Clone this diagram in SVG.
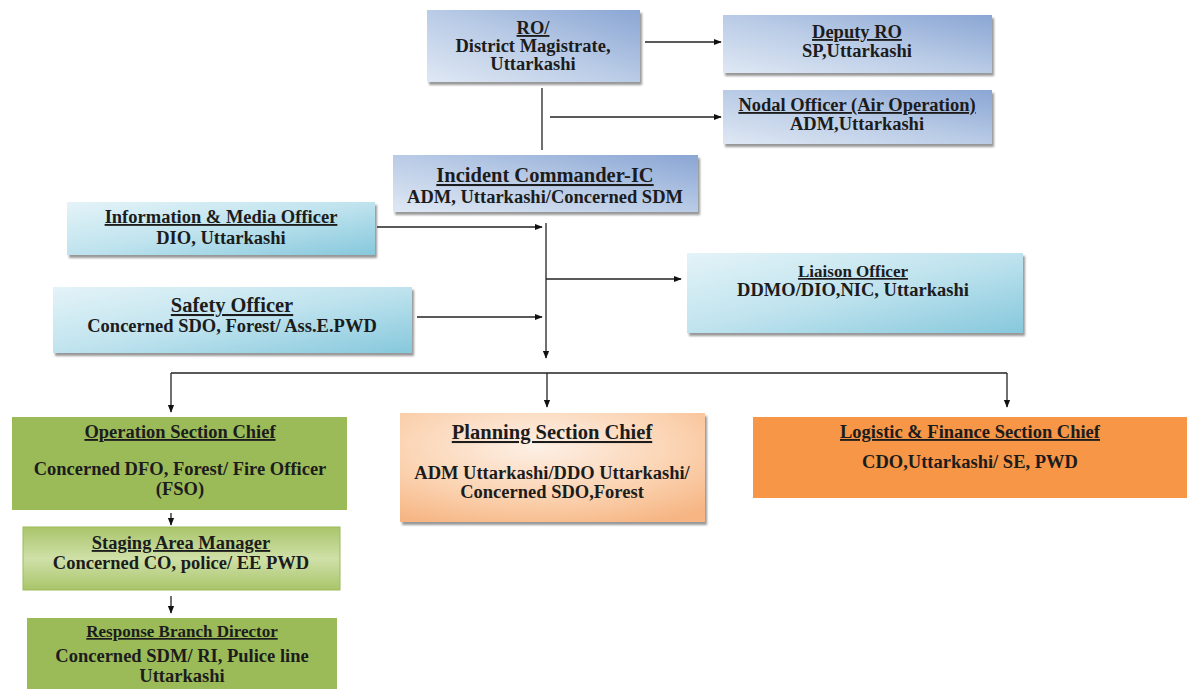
<svg xmlns="http://www.w3.org/2000/svg" width="1191" height="689" viewBox="0 0 1191 689">
<defs>
<linearGradient id="gBlue" x1="0" y1="1" x2="1" y2="0">
<stop offset="0" stop-color="#dfe8f4"/><stop offset="0.5" stop-color="#b9cbe6"/><stop offset="1" stop-color="#8aa6d4"/>
</linearGradient>
<linearGradient id="gCyan" x1="0" y1="0" x2="1" y2="1">
<stop offset="0" stop-color="#e4f3f8"/><stop offset="0.5" stop-color="#bfe3ee"/><stop offset="1" stop-color="#86c8dc"/>
</linearGradient>
<radialGradient id="gPeach" cx="0.45" cy="0.3" r="0.8">
<stop offset="0" stop-color="#fdf0e6"/><stop offset="0.6" stop-color="#fbd2b0"/><stop offset="1" stop-color="#f6b583"/>
</radialGradient>
<linearGradient id="gStage" x1="0" y1="0" x2="0" y2="1">
<stop offset="0" stop-color="#a9c56a"/><stop offset="0.5" stop-color="#cfe0a8"/><stop offset="1" stop-color="#a9c56a"/>
</linearGradient>
<marker id="ah" viewBox="0 0 10 10" refX="9" refY="5" markerWidth="8" markerHeight="8" markerUnits="userSpaceOnUse" orient="auto">
<path d="M0,1 L10,5 L0,9 z" fill="#111"/>
</marker>
<filter id="sh" x="-5%" y="-10%" width="115%" height="130%">
<feDropShadow dx="2" dy="3" stdDeviation="1" flood-color="#7f7f7f" flood-opacity="0.8"/>
</filter>
</defs>
<style>
text{font-family:"Liberation Serif","Times New Roman",serif;font-weight:bold;fill:#1c1c1c;text-anchor:middle}
.t{text-decoration:underline}
.s{font-size:18.5px}
.x{font-size:17px}
.l{font-size:20.5px}
.conn line{stroke:#222;stroke-width:1.3;fill:none}
</style>

<g id="ro">
<rect x="427" y="10" width="213" height="72" fill="url(#gBlue)" filter="url(#sh)"/>
<text class="s t" x="533" y="34">RO/</text>
<text class="s" x="533" y="52">District Magistrate,</text>
<text class="s" x="533" y="70">Uttarkashi</text>
</g>
<g id="deputy-ro">
<rect x="723" y="15" width="269" height="58" fill="url(#gBlue)" filter="url(#sh)"/>
<text class="s t" x="857" y="38">Deputy RO</text>
<text class="s" x="857" y="57">SP,Uttarkashi</text>
</g>
<g id="nodal-officer">
<rect x="723" y="90" width="269" height="54" fill="url(#gBlue)" filter="url(#sh)"/>
<text class="s t" x="857" y="111">Nodal Officer (Air Operation)</text>
<text class="s" x="857" y="130">ADM,Uttarkashi</text>
</g>
<g id="incident-commander">
<rect x="393" y="155" width="305" height="57" fill="url(#gBlue)" filter="url(#sh)"/>
<text class="l t" x="545" y="182">Incident Commander-IC</text>
<text class="s" x="545" y="203">ADM, Uttarkashi/Concerned SDM</text>
</g>
<g id="info-media-officer">
<rect x="67" y="202" width="308" height="53" fill="url(#gCyan)" filter="url(#sh)"/>
<text class="s t" x="221" y="223">Information &amp; Media Officer</text>
<text class="s" x="221" y="244">DIO, Uttarkashi</text>
</g>
<g id="safety-officer">
<rect x="53" y="287" width="359" height="66" fill="url(#gCyan)" filter="url(#sh)"/>
<text class="l t" x="232" y="312">Safety Officer</text>
<text class="s" x="232" y="332">Concerned SDO, Forest/ Ass.E.PWD</text>
</g>
<g id="liaison-officer">
<rect x="687" y="253" width="336" height="80" fill="url(#gCyan)" filter="url(#sh)"/>
<text class="x t" x="853" y="277">Liaison Officer</text>
<text class="s" x="853" y="296">DDMO/DIO,NIC, Uttarkashi</text>
</g>
<g id="operation-section-chief">
<rect x="12" y="417" width="335" height="93" fill="#9bbb59"/>
<text class="s t" x="180" y="438">Operation Section Chief</text>
<text class="s" x="180" y="475">Concerned DFO, Forest/ Fire Officer</text>
<text class="s" x="180" y="495">(FSO)</text>
</g>
<g id="staging-area-manager">
<rect x="23" y="527" width="317" height="63" fill="url(#gStage)" stroke="#9bbb59" stroke-width="1"/>
<text class="s t" x="181" y="549">Staging Area Manager</text>
<text class="s" x="181" y="569">Concerned CO, police/ EE PWD</text>
</g>
<g id="response-branch-director">
<rect x="27" y="618" width="310" height="75" fill="#9bbb59"/>
<text class="x t" x="182" y="637">Response Branch Director</text>
<text class="s" x="182" y="662">Concerned SDM/ RI, Pulice line</text>
<text class="s" x="182" y="682">Uttarkashi</text>
</g>
<g id="planning-section-chief">
<rect x="400" y="413" width="305" height="109" fill="url(#gPeach)" filter="url(#sh)"/>
<text class="l t" x="552" y="439">Planning Section Chief</text>
<text class="s" x="552" y="479">ADM Uttarkashi/DDO Uttarkashi/</text>
<text class="s" x="552" y="498">Concerned SDO,Forest</text>
</g>
<g id="logistic-finance-section-chief">
<rect x="753" y="417" width="434" height="81" fill="#f79646"/>
<text class="s t" x="970" y="438">Logistic &amp; Finance Section Chief</text>
<text class="s" x="970" y="468">CDO,Uttarkashi/ SE, PWD</text>
</g>

<g class="conn" id="connectors">
<line x1="645" y1="42" x2="721" y2="42" marker-end="url(#ah)"/>
<line x1="542" y1="88" x2="542" y2="150"/>
<line x1="550" y1="117" x2="721" y2="117" marker-end="url(#ah)"/>
<line x1="377" y1="227" x2="542" y2="227" marker-end="url(#ah)"/>
<line x1="546" y1="223" x2="546" y2="358" marker-end="url(#ah)"/>
<line x1="417" y1="317" x2="542" y2="317" marker-end="url(#ah)"/>
<line x1="546" y1="279" x2="681" y2="279" marker-end="url(#ah)"/>
<line x1="171" y1="373" x2="1007" y2="373"/>
<line x1="171" y1="373" x2="171" y2="412" marker-end="url(#ah)"/>
<line x1="547" y1="373" x2="547" y2="407" marker-end="url(#ah)"/>
<line x1="1007" y1="373" x2="1007" y2="407" marker-end="url(#ah)"/>
<line x1="171" y1="513" x2="171" y2="525" marker-end="url(#ah)"/>
<line x1="171" y1="596" x2="171" y2="613" marker-end="url(#ah)"/>
</g>
</svg>
